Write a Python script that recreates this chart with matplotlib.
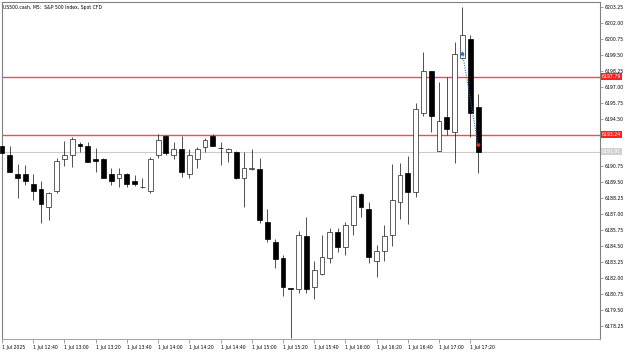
import numpy as np
import matplotlib.pyplot as plt

# US500.cash M5 candles, 1 Jul 2025 12:20 .. 17:25
opens = [6192.36, 6191.67, 6190.14, 6190.14, 6189.36, 6188.96, 6187.55, 6188.83, 6191.34, 6191.65,
         6192.51, 6192.38, 6191.34, 6191.34, 6190.14, 6189.83, 6190.14, 6189.61, 6189.12, 6188.83,
         6191.67, 6193.14, 6191.63, 6192.15, 6190.14, 6191.31, 6192.30, 6193.16, 6192.19, 6191.86,
         6191.86, 6189.83, 6190.53, 6190.53, 6186.42, 6184.81, 6183.54, 6181.20, 6181.13, 6185.30,
         6181.33, 6182.30, 6183.60, 6185.64, 6184.42, 6186.17, 6188.59, 6187.42, 6183.34, 6184.15,
         6185.38, 6187.93, 6190.22, 6188.78, 6194.97, 6198.21, 6191.99, 6194.65, 6193.48, 6199.23,
         6200.74, 6195.44]
highs = [6192.45, 6192.36, 6190.95, 6190.87, 6190.14, 6189.61, 6188.78, 6191.42, 6192.77, 6193.09,
         6192.69, 6192.65, 6192.18, 6191.38, 6190.61, 6190.66, 6190.22, 6190.08, 6189.87, 6191.47,
         6193.26, 6193.22, 6192.65, 6193.14, 6192.12, 6192.30, 6192.96, 6193.30, 6192.65, 6192.18,
         6191.93, 6191.86, 6192.12, 6191.39, 6187.40, 6185.04, 6183.85, 6181.23, 6185.70, 6186.82,
         6183.37, 6185.38, 6185.91, 6185.91, 6186.42, 6188.52, 6188.65, 6187.94, 6184.60, 6186.17,
         6190.95, 6191.00, 6191.57, 6195.70, 6199.75, 6198.23, 6197.40, 6197.79, 6200.53, 6203.23,
         6201.06, 6196.43]
lows = [6191.80, 6190.32, 6188.28, 6189.30, 6188.12, 6186.32, 6186.56, 6188.67, 6190.81, 6190.73,
        6191.86, 6191.10, 6190.34, 6189.81, 6189.30, 6189.17, 6189.17, 6189.22, 6189.10, 6188.65,
        6191.42, 6191.65, 6191.34, 6189.90, 6189.83, 6190.66, 6191.86, 6192.32, 6190.87, 6191.13,
        6189.77, 6187.55, 6190.48, 6186.30, 6184.86, 6182.82, 6180.60, 6177.29, 6180.81, 6180.81,
        6180.34, 6182.25, 6183.16, 6184.07, 6183.81, 6185.38, 6186.82, 6183.16, 6182.11, 6183.37,
        6184.52, 6186.61, 6186.24, 6188.34, 6194.71, 6193.48, 6191.97, 6193.22, 6191.00, 6199.21,
        6193.04, 6190.22]
closes = [6191.83, 6190.34, 6189.87, 6189.61, 6188.85, 6187.81, 6188.65, 6191.18, 6191.65, 6192.88,
          6192.36, 6191.13, 6191.18, 6189.83, 6189.61, 6190.14, 6189.36, 6189.38, 6189.12, 6191.31,
          6192.83, 6191.83, 6192.15, 6190.34, 6191.65, 6192.15, 6192.83, 6192.36, 6192.16, 6192.15,
          6189.83, 6190.66, 6190.66, 6186.56, 6185.04, 6183.52, 6181.33, 6181.18, 6185.38, 6181.13,
          6182.64, 6183.63, 6185.64, 6184.42, 6186.17, 6188.44, 6187.60, 6183.63, 6184.15, 6185.33,
          6188.12, 6190.08, 6188.73, 6195.23, 6198.23, 6194.73, 6194.34, 6193.69, 6199.54, 6201.06,
          6194.92, 6191.91]

level_lines = [6197.79, 6193.24]
bid = 6191.91
trade_bars = [59, 61]
trade_prices = [6199.65, 6192.45]

xtick_labels = ['1 Jul 2025', '1 Jul 12:40', '1 Jul 13:00', '1 Jul 13:20', '1 Jul 13:40',
                '1 Jul 14:00', '1 Jul 14:20', '1 Jul 14:40', '1 Jul 15:00', '1 Jul 15:20',
                '1 Jul 15:40', '1 Jul 16:00', '1 Jul 16:20', '1 Jul 16:40', '1 Jul 17:00',
                '1 Jul 17:20']
ytick_vals = [6203.25, 6202.00, 6200.75, 6199.50, 6198.25, 6197.00, 6195.75, 6194.50, 6193.25,
              6192.00, 6190.75, 6189.50, 6188.25, 6187.00, 6185.75, 6184.50, 6183.25, 6182.00,
              6180.75, 6179.50, 6178.25]

o = np.array(opens)
h = np.array(highs)
l = np.array(lows)
c = np.array(closes)
x = np.arange(len(o))

fig = plt.figure(figsize=(6.25, 3.52), dpi=100)
ax = fig.add_axes([2/625, 13/352, 598/625, 337/352])

fs = 3.3
frame = '#808080'

# wicks then bodies
ax.vlines(x, l, h, color='#202020', linewidth=0.55, zorder=2, clip_on=False)
up = c >= o
bot = np.minimum(o, c)
hgt = np.maximum(np.abs(c - o), 0.03)
ax.bar(x[up], hgt[up], bottom=bot[up], width=0.62, color='white', edgecolor='#202020',
       linewidth=0.5, zorder=3, clip_on=False)
ax.bar(x[~up], hgt[~up], bottom=bot[~up], width=0.62, color='black', edgecolor='black',
       linewidth=0.5, zorder=3, clip_on=False)

for lv in level_lines:
    ax.axhline(lv, color='#ff4848', linewidth=1.0, zorder=1)
ax.axhline(bid, color='#cccccc', linewidth=0.8, zorder=1)

ax.plot(trade_bars, trade_prices, color='#1e6ed2', linestyle=(0, (1, 1.2)), linewidth=0.8, zorder=4)
ax.plot(trade_bars[0], trade_prices[0], marker='^', color='#1e6ed2', markersize=2, zorder=5)
ax.plot(trade_bars[1], trade_prices[1], marker='v', color='#e03030', markersize=2, zorder=5)

ax.set_xlim(0.1, 76.62)
ax.set_ylim(6177.23, 6203.64)

ax.set_xticks(np.arange(0, len(xtick_labels) * 4, 4))
ax.set_xticklabels(xtick_labels, fontsize=fs, ha='left')
ax.tick_params(axis='x', direction='out', length=3, width=0.5, color=frame, pad=1.5)

ax.yaxis.tick_right()
ax.set_yticks(ytick_vals)
ylabels = ['%.2f' % v for v in ytick_vals]
ylabels[8] = ''
ylabels[9] = ''
ax.set_yticklabels(ylabels, fontsize=fs)
ax.tick_params(axis='y', direction='out', length=2.5, width=0.5, color=frame, pad=1)

for sp in ax.spines.values():
    sp.set_color(frame)
    sp.set_linewidth(0.8)
ax.spines['bottom'].set_color('#a8a8a8')

# price labels on the axis
for lv in level_lines:
    ax.text(1.003, lv, '%.2f' % lv, transform=ax.get_yaxis_transform(), fontsize=fs,
            color='white', va='center', ha='left',
            bbox=dict(boxstyle='square,pad=0.25', facecolor='#ff2020', edgecolor='none'))
ax.text(1.003, bid, '%.2f' % bid, transform=ax.get_yaxis_transform(), fontsize=fs,
        color='white', va='center', ha='left',
        bbox=dict(boxstyle='square,pad=0.25', facecolor='#d0d0d0', edgecolor='none'))

ax.text(0.002, 0.992, 'US500.cash, M5:  S&P 500 Index, Spot CFD', transform=ax.transAxes,
        fontsize=fs, va='top', ha='left')

fig.savefig('out.png', dpi=100)
